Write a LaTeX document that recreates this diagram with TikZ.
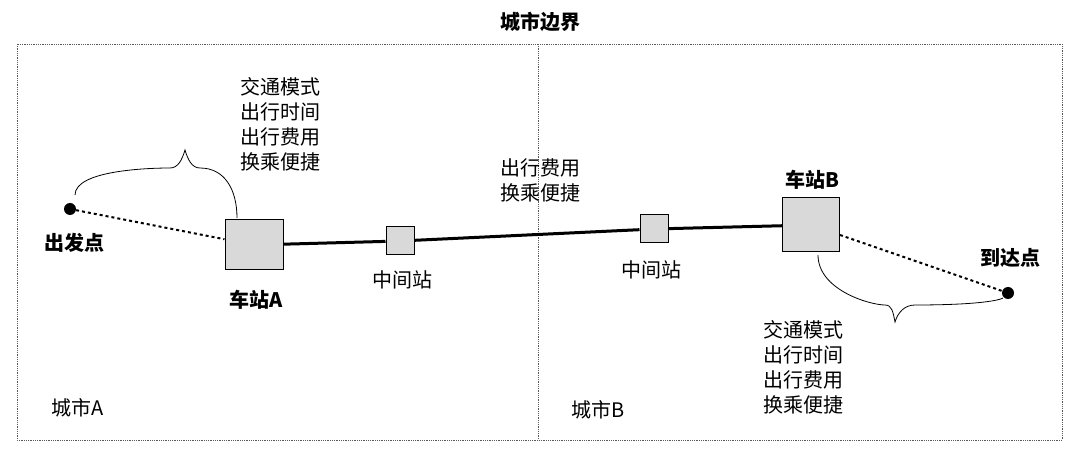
\documentclass[tikz,border=0pt]{standalone}
\usepackage{fontspec}
\setmainfont{Noto Sans CJK SC}
\begin{document}
\begin{tikzpicture}[x=1pt,y=-1pt,
  txt/.style={font=\fontsize{20}{25}\selectfont,align=center,inner sep=0},
  btxt/.style={font=\fontsize{20}{25}\selectfont\bfseries,inner sep=0},
  stbox/.style={draw,fill=gray!30,line width=1pt,inner sep=0},
  dotn/.style={circle,fill=black,minimum size=12pt,inner sep=0},
  brace/.style={line width=0.8pt}]
\useasboundingbox (0,0) rectangle (1080,462);
\node[btxt] (title) at (540,22) {城市边界};
\draw[densely dotted,gray!70!black,line width=0.8pt] (17,44) rectangle (1062,440);
\coordinate (vt) at (538,44); \coordinate (vb) at (538,440);
\draw[densely dotted,gray!70!black,line width=0.8pt] (vt) -- (vb);
\node[dotn] (s) at (70,209) {};
\node[btxt] (sl) at (75,243) {出发点};
\node[stbox,minimum width=58pt,minimum height=50pt] (A) at (254,245) {};
\node[btxt] (Al) at (256,300) {车站A};
\node[stbox,minimum width=28pt,minimum height=28pt] (m1) at (400,241) {};
\node[stbox,minimum width=28pt,minimum height=28pt] (m2) at (654,229) {};
\node[stbox,minimum width=57pt,minimum height=54pt] (B) at (811,225) {};
\node[btxt] (Bl) at (812,180) {车站B};
\node[dotn] (e) at (1008,293) {};
\node[btxt] (el) at (1010,258) {到达点};
\node[txt] (m1l) at (402,280) {中间站};
\node[txt] (m2l) at (651,270) {中间站};
\draw[dashed,line width=2pt] (s) -- (A);
\draw[line width=3pt] (A) -- (m1) -- (m2) -- (B);
\draw[dashed,line width=2pt] (B) -- (e);
\node[txt] (t1) at (280,124) {交通模式\\出行时间\\出行费用\\换乘便捷};
\node[txt] (t2) at (540,180) {出行费用\\换乘便捷};
\node[txt] (t3) at (803,367) {交通模式\\出行时间\\出行费用\\换乘便捷};
\node[btxt,font=\fontsize{20}{25}\selectfont] (ca) at (78,408) {城市A};
\node[btxt,font=\fontsize{20}{25}\selectfont] (cb) at (598,410) {城市B};
\draw[brace] (75,195) .. controls (75,170) and (150,168) .. (170,168)
  .. controls (178,168) and (182,160) .. (185,150)
  .. controls (188,160) and (192,168) .. (200,168)
  .. controls (225,168) and (237,190) .. (237,218);
\draw[brace] (818,255) .. controls (818,290) and (870,305) .. (885,305)
  .. controls (892,305) and (893,312) .. (895,322)
  .. controls (898,312) and (905,305) .. (915,305)
  .. controls (980,305) and (1000,300) .. (1003,298);
\end{tikzpicture}
\end{document}
